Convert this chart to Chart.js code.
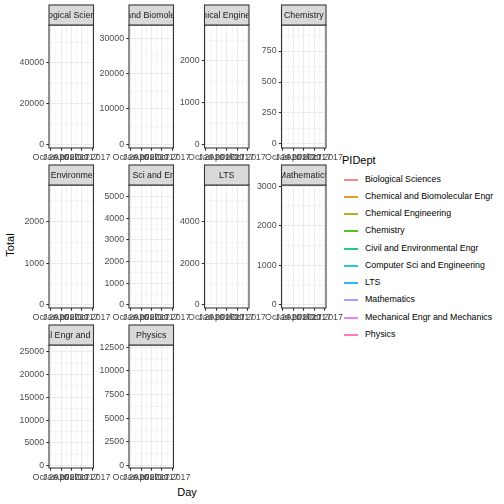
<!DOCTYPE html>
<html>
<head>
<meta charset="utf-8">
<script src="https://cdn.jsdelivr.net/npm/chart.js@4.4.1/dist/chart.umd.min.js"></script>
<style>
  body { margin: 0; background: #fff; }
  #wrap { position: relative; width: 504px; height: 504px; overflow: hidden; font-family: "Liberation Sans", Arial, sans-serif; }
  #wrap canvas { position: absolute; left: 0; top: 0; }
  .axis-title { position: absolute; font-size: 11px; color: #000; white-space: nowrap; line-height: 1; }
  #ylab { left: 10px; top: 245px; transform: translate(-50%, -50%) rotate(-90deg); }
  #xlab { left: 187px; top: 492px; transform: translate(-50%, -50%); }
  #legend { position: absolute; left: 342px; top: 153px; }
  #legend .ttl { position: absolute; left: 0; top: 0; font-size: 11px; line-height: 14px; white-space: nowrap; }
  #legend .item { position: absolute; left: 0; height: 17px; width: 170px; }
  #legend .key { position: absolute; left: 2px; top: 8px; width: 14px; height: 2px; opacity: 0.85; }
  #legend .lbl { position: absolute; left: 23px; top: 0; font-size: 8.8px; line-height: 17px; color: #000; white-space: nowrap; }
</style>
</head>
<body>
<div id="wrap">
  <div id="ylab" class="axis-title">Total</div>
  <div id="xlab" class="axis-title">Day</div>
  <div id="legend"><div class="ttl">PIDept</div></div>
</div>
<script>
// one facet per department, same order as the legend
const depts = ['Biological Sciences', 'Chemical and Biomolecular Engr', 'Chemical Engineering', 'Chemistry',
  'Civil and Environmental Engr', 'Computer Sci and Engineering', 'LTS', 'Mathematics',
  'Mechanical Engr and Mechanics', 'Physics'];
const deptColors = ['#F8766D', '#D89000', '#A3A500', '#39B600', '#00BF7D', '#00BFC4', '#00B0F6', '#9590FF', '#E76BF3', '#FF62BC'];

// first / last day in the data and the totals seen per department
// (the lines never render in the source: every group has a single observation)
const days = ['2016-10-06', '2017-09-22'];
const lowTotals = [930, 530, 45, 13, 62, 120, 124, 65, 725, 347];
const highTotals = [55740, 32190, 2729, 915, 2746, 5282, 5492, 2892, 25225, 12140];

const yTicks = [
  [0, 20000, 40000],
  [0, 10000, 20000, 30000],
  [0, 1000, 2000],
  [0, 250, 500, 750],
  [0, 1000, 2000],
  [0, 1000, 2000, 3000, 4000, 5000],
  [0, 2000, 4000],
  [0, 1000, 2000, 3000],
  [0, 5000, 10000, 15000, 20000, 25000],
  [0, 2500, 5000, 7500, 10000, 12500],
];
const xTickDates = ['2016-10-01', '2017-01-01', '2017-04-01', '2017-07-01', '2017-10-01'];
const xTickLabels = ['Oct 2016', 'Jan 2017', 'Apr 2017', 'Jul 2017', 'Oct 2017'];

const GRID = '#EBEBEB';
const DARK = '#333333';
const AXIS_TEXT = '#4D4D4D';
const tickFont = { family: "'Liberation Sans', Arial, sans-serif", size: 8.8 };

const colLeft = [49, 129, 204.5, 281.5];
const rowTop = [25, 185, 345];
const panelW = 44.5;
const panelH = 123;
const stripH = 20;
const xAxisH = 16;

const epoch = Date.UTC(2016, 9, 1);
function dayNum(s) {
  const [y, m, d] = s.split('-').map(Number);
  return (Date.UTC(y, m - 1, d) - epoch) / 86400000;
}

function expand(lo, hi, mult = 0.05) {
  const pad = (hi - lo) * mult;
  return [lo - pad, hi + pad];
}

const dayVals = days.map(dayNum);
const [xMin, xMax] = expand(Math.min(...dayVals), Math.max(...dayVals));
const xTickVals = xTickDates.map(dayNum);

function minorValues(major, lo, hi) {
  const out = [];
  for (let k = 0; k < major.length - 1; k++) out.push((major[k] + major[k + 1]) / 2);
  const first = major[1] - major[0];
  const last = major[major.length - 1] - major[major.length - 2];
  out.unshift(major[0] - first / 2);
  out.push(major[major.length - 1] + last / 2);
  return out.filter(v => v >= lo && v <= hi);
}

const minorGridPlugin = {
  id: 'minorGrid',
  beforeDatasetsDraw(chart) {
    const { ctx, chartArea } = chart;
    const xs = chart.scales.x;
    const ys = chart.scales.y;
    ctx.save();
    ctx.strokeStyle = GRID;
    ctx.lineWidth = 0.53;
    minorValues(xs.ticks.map(t => t.value), xs.min, xs.max).forEach(v => {
      const px = xs.getPixelForValue(v);
      ctx.beginPath();
      ctx.moveTo(px, chartArea.top);
      ctx.lineTo(px, chartArea.bottom);
      ctx.stroke();
    });
    minorValues(ys.ticks.map(t => t.value), ys.min, ys.max).forEach(v => {
      const py = ys.getPixelForValue(v);
      ctx.beginPath();
      ctx.moveTo(chartArea.left, py);
      ctx.lineTo(chartArea.right, py);
      ctx.stroke();
    });
    ctx.restore();
  }
};

const facetFramePlugin = {
  id: 'facetFrame',
  afterDraw(chart, _args, opts) {
    const { ctx, chartArea } = chart;
    const { left, top, width } = chartArea;
    ctx.save();
    ctx.strokeStyle = DARK;
    ctx.lineWidth = 1.07;
    ctx.strokeRect(left, top, width, chartArea.height);
    ctx.fillStyle = '#D9D9D9';
    ctx.fillRect(left, top - stripH, width, stripH);
    ctx.strokeRect(left, top - stripH, width, stripH);
    ctx.beginPath();
    ctx.rect(left + 0.5, top - stripH, width - 1, stripH);
    ctx.clip();
    ctx.fillStyle = '#1A1A1A';
    ctx.font = "8.8px 'Liberation Sans', Arial, sans-serif";
    ctx.textAlign = 'center';
    ctx.textBaseline = 'middle';
    ctx.fillText(opts.text, left + width / 2, top - stripH / 2 + 0.5);
    ctx.restore();
  }
};

const wrap = document.getElementById('wrap');

depts.forEach((name, i) => {
  const col = i % 4;
  const row = Math.floor(i / 4);
  const left = colLeft[col];
  const top = rowTop[row];
  const [yMin, yMax] = expand(lowTotals[i], highTotals[i]);

  const canvas = document.createElement('canvas');
  canvas.width = 504;
  canvas.height = 504;
  wrap.appendChild(canvas);

  new Chart(canvas, {
    type: 'line',
    plugins: [minorGridPlugin, facetFramePlugin],
    data: {
      datasets: [{
        label: name,
        data: dayVals.map((d, k) => ({ x: d, y: k === 0 ? lowTotals[i] : highTotals[i] })),
        borderColor: deptColors[i],
        backgroundColor: deptColors[i],
        showLine: false,
        pointRadius: 0,
        pointHoverRadius: 0,
      }],
    },
    options: {
      responsive: false,
      animation: false,
      events: [],
      layout: { padding: { left: 0, top, right: 504 - left - panelW, bottom: 504 - top - panelH - xAxisH } },
      plugins: {
        legend: { display: false },
        tooltip: { enabled: false },
        facetFrame: { text: name },
      },
      scales: {
        x: {
          type: 'linear',
          bounds: 'data',
          min: xMin,
          max: xMax,
          afterBuildTicks: s => { s.ticks = xTickVals.map(v => ({ value: v })); },
          afterFit: s => { s.height = xAxisH; },
          ticks: {
            autoSkip: false,
            maxRotation: 0,
            minRotation: 0,
            padding: 1.5,
            color: AXIS_TEXT,
            font: tickFont,
            callback: (_v, k) => xTickLabels[k],
          },
          grid: { color: GRID, lineWidth: 1.07, tickColor: DARK, tickWidth: 1.07, tickLength: 2.75 },
          border: { display: false },
        },
        y: {
          type: 'linear',
          bounds: 'data',
          min: yMin,
          max: yMax,
          afterBuildTicks: s => { s.ticks = yTicks[i].map(v => ({ value: v })); },
          afterFit: s => { s.width = left; },
          ticks: {
            padding: 2.2,
            color: AXIS_TEXT,
            font: tickFont,
            callback: v => String(v),
          },
          grid: { color: GRID, lineWidth: 1.07, tickColor: DARK, tickWidth: 1.07, tickLength: 2.75 },
          border: { display: false },
        },
      },
    },
  });
});

// legend built from the same department list
const legend = document.getElementById('legend');
depts.forEach((name, i) => {
  const item = document.createElement('div');
  item.className = 'item';
  item.style.top = Math.round(17.5 + i * 17.25) + 'px';
  const key = document.createElement('div');
  key.className = 'key';
  key.style.background = deptColors[i];
  const lbl = document.createElement('div');
  lbl.className = 'lbl';
  lbl.textContent = name;
  item.appendChild(key);
  item.appendChild(lbl);
  legend.appendChild(item);
});
</script>
</body>
</html>
